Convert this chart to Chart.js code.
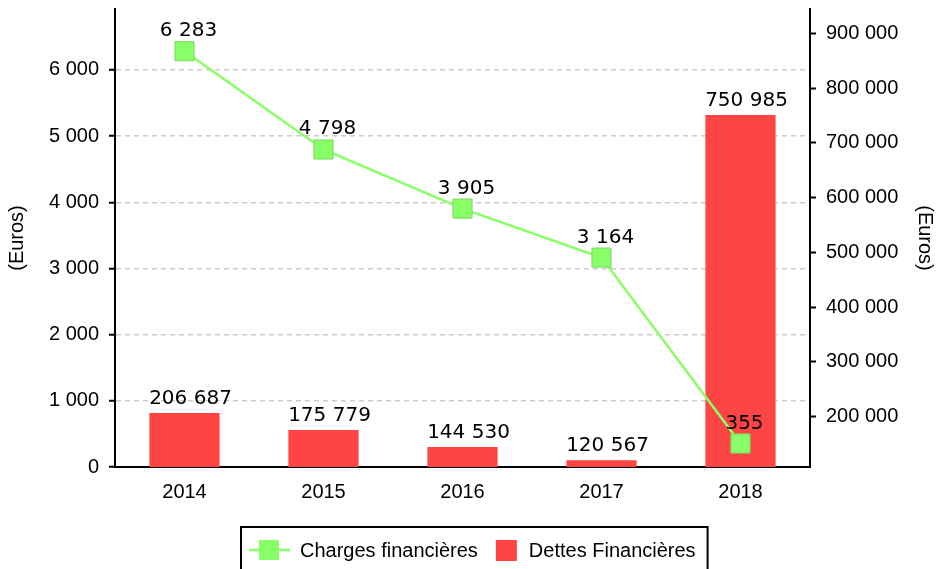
<!DOCTYPE html>
<html>
<head>
<meta charset="utf-8">
<script src="https://cdn.jsdelivr.net/npm/chart.js@4"></script>
<style>
  body { margin: 0; background: #fff; }
  #wrap { width: 937px; height: 569px; }
</style>
</head>
<body>
<div id="wrap"><canvas id="chart"></canvas></div>
<script>
const years = ['2014', '2015', '2016', '2017', '2018'];
const charges = [6283, 4798, 3905, 3164, 355];
const dettes = [206687, 175779, 144530, 120567, 750985];
const leftTicks = [0, 1000, 2000, 3000, 4000, 5000, 6000];
const rightTicks = [200000, 300000, 400000, 500000, 600000, 700000, 800000, 900000];
const chargesLabel = 'Charges financières';
const dettesLabel = 'Dettes Financières';
const axisTitle = '(Euros)';

const green = '#88ff66';
const red = '#ff4444';

function fmt(v) {
    return String(v).replace(/\B(?=(\d{3})+(?!\d))/g, ' ');
}

// value labels above points and bars
const valueLabels = {
    id: 'valueLabels',
    afterDatasetsDraw(chart) {
        const ctx = chart.ctx;
        ctx.save();
        ctx.font = '20px "DejaVu Sans"';
        ctx.fillStyle = '#000';
        ctx.textAlign = 'center';
        ctx.textBaseline = 'alphabetic';
        chart.data.datasets.forEach((ds, i) => {
            const meta = chart.getDatasetMeta(i);
            const isLine = ds.type === 'line';
            meta.data.forEach((el, j) => {
                ctx.fillText(fmt(ds.data[j]), el.x + (isLine ? 4 : 6), el.y - (isLine ? 15 : 9));
            });
        });
        ctx.restore();
    }
};

// boxed legend at the bottom
const boxLegend = {
    id: 'boxLegend',
    afterDraw(chart) {
        const ctx = chart.ctx;
        ctx.save();
        ctx.font = '20px "Liberation Sans"';
        const w1 = ctx.measureText(chargesLabel).width;
        const w2 = ctx.measureText(dettesLabel).width;
        const total = 8 + 41 + 10 + w1 + 18 + 21 + 12 + w2 + 12;
        const left = Math.round(474 - total / 2);
        const top = 527, cy = 550;
        ctx.strokeStyle = '#000';
        ctx.lineWidth = 2;
        ctx.strokeRect(left, top, total, 60);

        let x = left + 8;
        ctx.strokeStyle = green;
        ctx.lineWidth = 2.5;
        ctx.beginPath();
        ctx.moveTo(x, cy);
        ctx.lineTo(x + 41, cy);
        ctx.stroke();
        ctx.fillStyle = green;
        ctx.fillRect(x + 10, cy - 10, 20, 20);
        x += 51;
        ctx.fillStyle = '#000';
        ctx.textBaseline = 'middle';
        ctx.fillText(chargesLabel, x, cy + 1);
        x += w1 + 18;
        ctx.fillStyle = red;
        ctx.fillRect(x, cy - 10, 21, 21);
        x += 33;
        ctx.fillStyle = '#000';
        ctx.fillText(dettesLabel, x, cy + 1);
        ctx.restore();
    }
};

function noPad(scale) {
    scale.paddingTop = 0;
    scale.paddingBottom = 0;
}

const ctx = document.getElementById('chart').getContext('2d');
const chart = new Chart(ctx, {
    data: {
        labels: years,
        datasets: [{
            type: 'line',
            label: chargesLabel,
            data: charges,
            yAxisID: 'y',
            borderColor: green,
            borderWidth: 2.5,
            pointStyle: 'rect',
            pointRadius: 13.5,
            pointBackgroundColor: green,
            pointBorderColor: '#7bd860',
            pointBorderWidth: 1,
            tension: 0,
            clip: false
        }, {
            type: 'bar',
            label: dettesLabel,
            data: dettes,
            yAxisID: 'y1',
            backgroundColor: red,
            categoryPercentage: 1,
            barPercentage: 0.505
        }]
    },
    options: {
        responsive: true,
        maintainAspectRatio: false,
        animation: false,
        layout: { autoPadding: false, padding: { top: 9, left: 0, right: 0, bottom: 0 } },
        plugins: {
            legend: { display: false },
            tooltip: { enabled: false }
        },
        scales: {
            x: {
                grid: { display: false },
                border: { color: '#000', width: 2 },
                ticks: { color: '#000', font: { family: 'Liberation Sans', size: 20 }, padding: 5 },
                afterFit(scale) { scale.height = 102; scale.paddingLeft = 0; scale.paddingRight = 0; }
            },
            y: {
                position: 'left',
                min: 0,
                max: 6921,
                afterBuildTicks(scale) { scale.ticks = leftTicks.map(v => ({ value: v })); },
                grid: {
                    color: '#cccccc',
                    lineWidth: 1.5,
                    tickColor: '#000',
                    tickLength: 6,
                    tickWidth: 2,
                    tickBorderDash: []
                },
                border: { color: '#000', width: 2, dash: [5, 4] },
                ticks: {
                    color: '#000',
                    font: { family: 'Liberation Sans', size: 20 },
                    padding: 10,
                    callback: v => fmt(v)
                },
                title: {
                    display: true,
                    text: axisTitle,
                    color: '#000',
                    font: { family: 'Liberation Sans', size: 20 },
                    padding: { top: 5 }
                },
                afterFit(scale) { scale.width = 115; noPad(scale); }
            },
            y1: {
                position: 'right',
                min: 108160,
                max: 944370,
                afterBuildTicks(scale) { scale.ticks = rightTicks.map(v => ({ value: v })); },
                grid: {
                    drawOnChartArea: false,
                    tickColor: '#000',
                    tickLength: 6,
                    tickWidth: 2
                },
                border: { color: '#000', width: 2 },
                ticks: {
                    color: '#000',
                    font: { family: 'Liberation Sans', size: 20 },
                    padding: 10,
                    callback: v => fmt(v)
                },
                title: {
                    display: true,
                    text: axisTitle,
                    color: '#000',
                    font: { family: 'Liberation Sans', size: 20 },
                    padding: { top: 0 }
                },
                afterFit(scale) { scale.width = 127; noPad(scale); }
            }
        }
    },
    plugins: [valueLabels, boxLegend]
});
</script>
</body>
</html>
